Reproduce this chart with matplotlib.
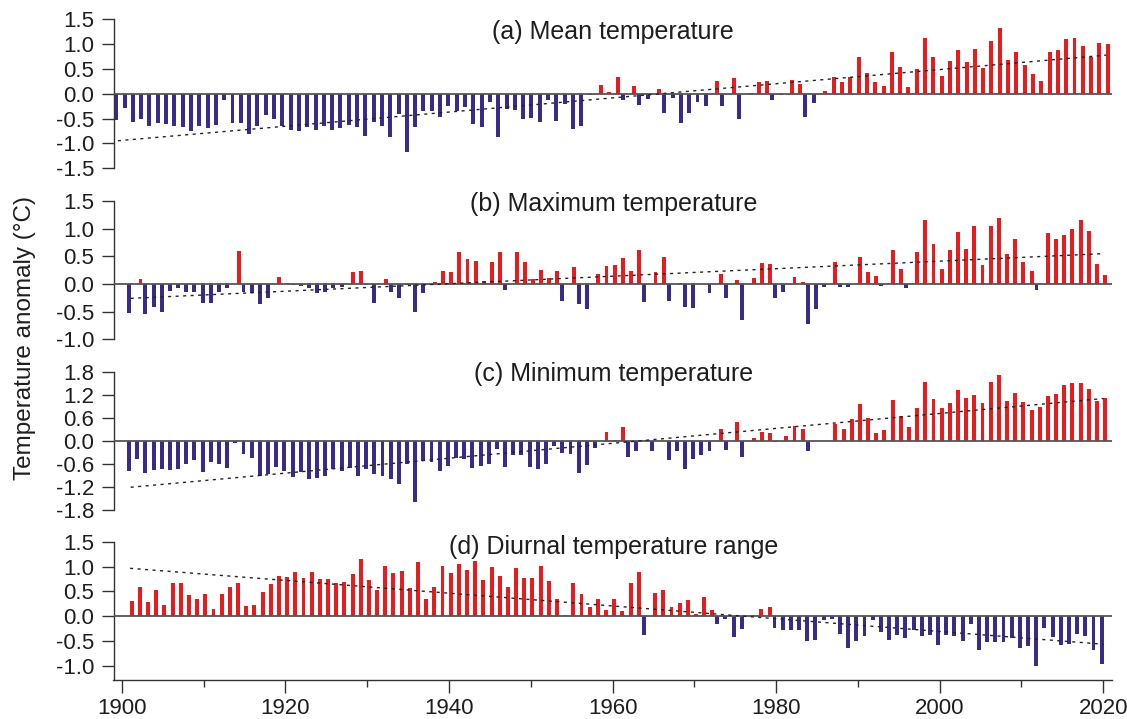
import matplotlib
matplotlib.use('Agg')
import matplotlib.pyplot as plt
import numpy as np

plt.rcParams['font.family'] = ['Liberation Sans', 'DejaVu Sans']

# ── Данные (аномалии, °C) ─────────────────────────────────────────────────────
years = list(range(1901, 2021))

mean_t = [-0.52, -0.28, -0.56, -0.50, -0.64, -0.58, -0.60, -0.64, -0.66, -0.74,
          -0.64, -0.68, -0.62, -0.12, -0.58, -0.58, -0.81, -0.64, -0.42, -0.50,
          -0.64, -0.72, -0.74, -0.66, -0.72, -0.64, -0.72, -0.68, -0.62, -0.66,
          -0.85, -0.56, -0.64, -0.87, -0.40, -1.17, -0.66, -0.34, -0.34, -0.46,
          -0.24, -0.34, -0.26, -0.60, -0.66, -0.16, -0.87, -0.30, -0.32, -0.50,
          -0.48, -0.56, -0.12, -0.54, -0.20, -0.70, -0.64, -0.03, 0.17, 0.03,
          0.34, -0.12, 0.15, -0.22, -0.10, 0.09, -0.38, -0.08, -0.58, -0.38,
          -0.16, -0.24, 0.26, -0.24, 0.32, -0.50, 0.02, 0.23, 0.26, -0.12,
          -0.02, 0.28, 0.19, -0.47, -0.19, 0.05, 0.34, 0.23, 0.34, 0.74,
          0.42, 0.23, 0.15, 0.84, 0.54, 0.13, 0.50, 1.12, 0.74, 0.36,
          0.66, 0.88, 0.64, 0.90, 0.52, 1.06, 1.32, 0.68, 0.84, 0.58,
          0.40, 0.26, 0.84, 0.88, 1.10, 1.12, 0.96, 0.74, 1.02, 1.00]

max_t = [-0.52, 0.09, -0.54, -0.41, -0.50, -0.12, -0.08, -0.14, -0.14, -0.35,
         -0.34, -0.14, -0.08, 0.60, -0.14, -0.17, -0.37, -0.25, 0.13, 0.02,
         -0.01, -0.03, -0.08, -0.17, -0.14, -0.07, -0.05, 0.22, 0.23, -0.01,
         -0.35, 0.09, -0.14, -0.25, -0.02, -0.50, -0.17, 0.04, 0.23, 0.22,
         0.58, 0.45, 0.41, 0.05, 0.40, 0.58, -0.10, 0.58, 0.40, 0.09,
         0.25, 0.11, 0.23, -0.30, 0.31, -0.37, -0.46, 0.18, 0.32, 0.34,
         0.47, 0.23, 0.61, -0.32, 0.22, 0.49, -0.30, 0.01, -0.41, -0.43,
         0.00, -0.16, 0.18, -0.26, 0.07, -0.65, 0.11, 0.38, 0.36, -0.25,
         -0.14, 0.13, 0.04, -0.73, -0.46, -0.05, 0.40, -0.05, -0.05, 0.49,
         0.22, 0.14, -0.03, 0.61, 0.27, -0.07, 0.58, 1.15, 0.72, 0.27,
         0.61, 0.94, 0.63, 1.05, 0.34, 1.05, 1.19, 0.54, 0.81, 0.40,
         0.23, -0.10, 0.92, 0.81, 0.88, 0.99, 1.15, 0.96, 0.36, 0.16]

min_t = [-0.78, -0.47, -0.83, -0.75, -0.73, -0.75, -0.73, -0.60, -0.49, -0.81,
         -0.55, -0.60, -0.70, -0.05, -0.34, -0.44, -0.91, -0.88, -0.68, -0.78,
         -0.94, -0.81, -0.99, -0.96, -0.91, -0.73, -0.78, -0.70, -0.91, -0.73,
         -0.88, -0.91, -1.01, -1.14, -0.60, -1.59, -0.52, -0.55, -0.78, -0.65,
         -0.44, -0.47, -0.70, -0.65, -0.60, -0.21, -0.68, -0.36, -0.36, -0.68,
         -0.73, -0.60, -0.13, -0.31, -0.34, -0.83, -0.62, -0.18, 0.23, 0.01,
         0.36, -0.42, -0.26, 0.03, -0.26, -0.02, -0.49, -0.26, -0.73, -0.47,
         -0.36, -0.26, 0.30, -0.23, 0.49, -0.42, 0.07, 0.23, 0.20, -0.03,
         0.12, 0.38, 0.30, -0.26, 0.00, -0.02, 0.43, 0.30, 0.56, 0.95,
         0.59, 0.20, 0.28, 1.06, 0.64, 0.36, 0.85, 1.53, 1.08, 0.85,
         0.98, 1.32, 1.11, 1.19, 0.98, 1.53, 1.71, 1.03, 1.24, 1.01,
         0.80, 0.88, 1.16, 1.21, 1.45, 1.50, 1.50, 1.34, 1.03, 1.11]

dtr = [0.31, 0.58, 0.29, 0.53, 0.23, 0.66, 0.66, 0.43, 0.35, 0.45,
       0.15, 0.45, 0.59, 0.66, 0.21, 0.23, 0.49, 0.64, 0.82, 0.80,
       0.90, 0.78, 0.90, 0.76, 0.76, 0.66, 0.70, 0.86, 1.16, 0.74,
       0.53, 1.02, 0.88, 0.92, 0.57, 1.10, 0.35, 0.59, 1.02, 0.88,
       1.06, 0.94, 1.12, 0.74, 1.00, 0.82, 0.59, 0.98, 0.78, 0.78,
       1.02, 0.72, 0.35, 0.03, 0.68, 0.45, 0.19, 0.35, 0.13, 0.35,
       0.11, 0.68, 0.90, -0.37, 0.47, 0.53, 0.19, 0.27, 0.33, 0.05,
       0.39, 0.13, -0.16, -0.05, -0.41, -0.25, 0.03, 0.15, 0.19, -0.23,
       -0.27, -0.27, -0.27, -0.49, -0.47, -0.07, -0.05, -0.35, -0.64, -0.49,
       -0.39, -0.07, -0.31, -0.47, -0.37, -0.43, -0.27, -0.39, -0.37, -0.57,
       -0.37, -0.39, -0.49, -0.15, -0.68, -0.51, -0.51, -0.51, -0.43, -0.64,
       -0.59, -1.00, -0.23, -0.41, -0.57, -0.55, -0.35, -0.39, -0.68, -0.96]

titles = ['(a) Mean temperature', '(b) Maximum temperature',
          '(c) Minimum temperature', '(d) Diurnal temperature range']
yticks = [[-1.5, -1.0, -0.5, 0.0, 0.5, 1.0, 1.5],
          [-1.0, -0.5, 0.0, 0.5, 1.0, 1.5],
          [-1.8, -1.2, -0.6, 0.0, 0.6, 1.2, 1.8],
          [-1.0, -0.5, 0.0, 0.5, 1.0, 1.5]]
xticks = [1900, 1920, 1940, 1960, 1980, 2000, 2020]
series = [mean_t, max_t, min_t, dtr]

# ── Геометрия (пиксели исходной картинки) ────────────────────────────────────
W, H = 1127, 719
RED, BLUE = '#e61c1e', '#3a2a8a'
x_left, x_right = 113.5, 1111.7
# (y нуля, px на единицу, ylim, xlim, y заголовка)
panels = [
    (93.7, 49.77, (-1.65, 1.65), (1900.47, 2020.68), 32),
    (284.0, 55.4, (-1.15, 1.65), (1898.9, 2021.0), 204.5),
    (440.7, 38.4, (-2.0, 2.0), (1898.9, 2021.0), 373.5),
    (616.3, 49.7, (-1.276, 1.7), (1898.97, 2021.03), 546.7),
]

fs_tick = 16
fig = plt.figure(figsize=(W / 100, H / 100), dpi=100, facecolor='white')

for i, (y0, k, ylim, xlim, ty) in enumerate(panels):
    top = y0 - ylim[1] * k
    bot = y0 - ylim[0] * k
    ax = fig.add_axes([x_left / W, 1 - bot / H, (x_right - x_left) / W, (bot - top) / H])
    ax.set_xlim(*xlim)
    ax.set_ylim(*ylim)
    ax.patch.set_alpha(0)

    yrs = np.array(years)
    vals = np.array(series[i])
    pos = vals >= 0
    ax.bar(yrs[pos] + 0.2, vals[pos], width=0.48, color=RED, lw=0, zorder=2)
    ax.bar(yrs[~pos] - 0.2, vals[~pos], width=0.48, color=BLUE, lw=0, zorder=2)

    ax.axhline(0, color='#555555', lw=1.3, zorder=3)

    # линейный тренд
    b1, b0 = np.polyfit(yrs, vals, 1)
    ax.plot([yrs[0], yrs[-1]], [b0 + b1 * yrs[0], b0 + b1 * yrs[-1]],
            color='#222222', lw=1.0, ls=(0, (2.2, 3.2)), zorder=4)

    for s in ['top', 'right']:
        ax.spines[s].set_visible(False)
    ax.spines['left'].set_color('#333333')
    ax.spines['left'].set_linewidth(1.0)

    ax.set_yticks(yticks[i])
    ax.set_yticklabels([f'{v:.1f}' for v in yticks[i]])
    ax.tick_params(axis='y', direction='out', length=9, width=1.0, pad=5,
                   labelsize=fs_tick, colors='#333333', labelcolor='#1e1e1e')

    if i < 3:
        ax.spines['left'].set_bounds(yticks[i][0], yticks[i][-1])
        ax.spines['bottom'].set_visible(False)
        ax.set_xticks([])
    else:
        ax.spines['left'].set_bounds(ylim[0], yticks[i][-1])
        ax.spines['bottom'].set_color('#333333')
        ax.spines['bottom'].set_linewidth(1.0)
        ax.set_xticks(xticks)
        ax.set_xticks([1910, 1930, 1950, 1970, 1990, 2010], minor=True)
        ax.tick_params(axis='x', which='major', direction='out', length=9, width=1.0,
                       pad=4, labelsize=fs_tick, colors='#333333', labelcolor='#1e1e1e')
        ax.tick_params(axis='x', which='minor', direction='out', length=5, width=1.0,
                       colors='#333333')

    fig.text(613.3 / W, 1 - ty / H, titles[i], ha='center', va='center',
             fontsize=18, color='#1e1e1e')

fig.text(25 / W, 1 - 338 / H, 'Temperature anomaly (°C)', rotation=90,
         ha='center', va='center', fontsize=17.5, color='#1e1e1e')

plt.savefig('out.png', dpi=100, facecolor='white')
